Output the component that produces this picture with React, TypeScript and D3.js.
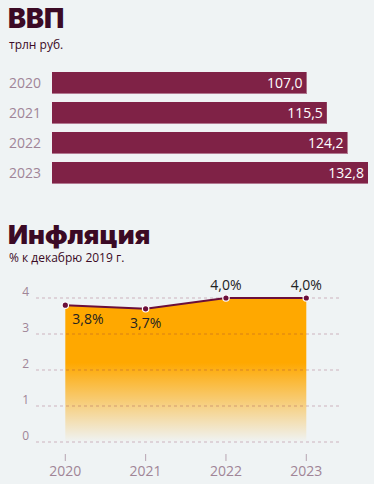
import React from 'react';
import * as d3 from 'd3';

const gdpYears = ['2020', '2021', '2022', '2023'];
const gdpValues = [107.0, 115.5, 124.2, 132.8];
const gdpLabels = ['107,0', '115,5', '124,2', '132,8'];

const inflYears = ['2020', '2021', '2022', '2023'];
const inflValues = [3.8, 3.7, 4.0, 4.0];
const inflLabels = ['3,8%', '3,7%', '4,0%', '4,0%'];
const inflTicks = [0, 1, 2, 3, 4];

const W = 374;
const H = 484;
const font = '"Open Sans", sans-serif';
const titleFont = 'Inter, "Open Sans", sans-serif';
const bg = '#eff3f4';
const maroon = '#7f2246';
const dark = '#3b0a25';
const mauve = '#a08597';

export default function App() {
  // GDP bars
  const x = d3.scaleLinear().domain([0, 132.8]).range([52, 368]);
  const yb = d3.scaleBand().domain(gdpYears).range([72, 184]).paddingInner(8 / 30).paddingOuter(0);

  // inflation area
  const xi = d3.scalePoint().domain(inflYears).range([65.3, 306.3]);
  const yi = d3.scaleLinear().domain([0, 4]).range([442, 298]);
  const pts = inflYears.map((yr, i) => ({ yr, v: inflValues[i] }));
  const line = d3.line<{ yr: string; v: number }>().x(d => xi(d.yr)!).y(d => yi(d.v));
  const area = d3.area<{ yr: string; v: number }>().x(d => xi(d.yr)!).y0(yi(0)).y1(d => yi(d.v));

  return (
    <svg width={W} height={H} style={{ position: 'absolute', left: 0, top: 0, background: bg }}>
      <defs>
        <linearGradient id="fade" gradientUnits="userSpaceOnUse" x1={0} x2={0} y1={yi(4)} y2={yi(0)}>
          <stop offset="0" stopColor="#ffa800" />
          <stop offset="0.45" stopColor="#ffa800" />
          <stop offset="1" stopColor="#ffa800" stopOpacity={0} />
        </linearGradient>
      </defs>
      <rect width={W} height={H} fill={bg} />

      <text x={8} y={28} fontFamily={titleFont} fontWeight={900} fontSize={27} fill={dark}>ВВП</text>
      <text x={9} y={49} fontFamily={font} fontSize={12} fill={dark}>трлн руб.</text>

      {gdpYears.map((yr, i) => (
        <g key={yr}>
          <text x={9} y={yb(yr)! + yb.bandwidth() / 2 + 5} fontFamily={font} fontSize={14} fill={mauve}>{yr}</text>
          <rect x={x(0)} y={yb(yr)!} width={x(gdpValues[i]) - x(0)} height={yb.bandwidth()} fill={maroon} />
          <rect x={x(0)} y={yb(yr)! + yb.bandwidth() - 1} width={x(gdpValues[i]) - x(0)} height={1} fill="#b07890" />
          <text x={x(gdpValues[i]) - 4} y={yb(yr)! + yb.bandwidth() / 2 + 5} textAnchor="end" fontFamily={font} fontSize={14} fill="#fff">{gdpLabels[i]}</text>
        </g>
      ))}

      <text x={8} y={244} fontFamily={titleFont} fontWeight={900} fontSize={26} fill={dark}>Инфляция</text>
      <text x={9} y={262} fontFamily={font} fontSize={12} fill={dark}>% к декабрю 2019 г.</text>

      <path d={area(pts)!} fill="url(#fade)" />

      {inflTicks.map(t => (
        <g key={t}>
          <line x1={36} x2={342} y1={yi(t)} y2={yi(t)} stroke="#7f2246" strokeOpacity={0.3} strokeDasharray="3,3" />
          <text x={29} y={yi(t) - 2} textAnchor="end" fontFamily={font} fontSize={12} fill={mauve}>{t}</text>
        </g>
      ))}

      <path d={line(pts)!} fill="none" stroke="#6b0f3a" strokeWidth={2} />
      {pts.map((p, i) => (
        <g key={p.yr}>
          <circle cx={xi(p.yr)} cy={yi(p.v)} r={3.2} fill="#6b0f3a" stroke="#fff" strokeWidth={1.2} />
          <text
            x={i === 0 ? xi(p.yr)! + 7 : xi(p.yr)!}
            y={i < 2 ? yi(p.v) + 19 : yi(p.v) - 8}
            textAnchor={i === 0 ? 'start' : 'middle'}
            fontFamily={font}
            fontSize={14}
            fill="#222"
          >
            {inflLabels[i]}
          </text>
        </g>
      ))}

      {inflYears.map(yr => (
        <g key={yr}>
          <line x1={xi(yr)} x2={xi(yr)} y1={454} y2={461} stroke={mauve} strokeOpacity={0.7} />
          <text x={xi(yr)} y={476} textAnchor="middle" fontFamily={font} fontSize={14} fill={mauve}>{yr}</text>
        </g>
      ))}
    </svg>
  );
}
